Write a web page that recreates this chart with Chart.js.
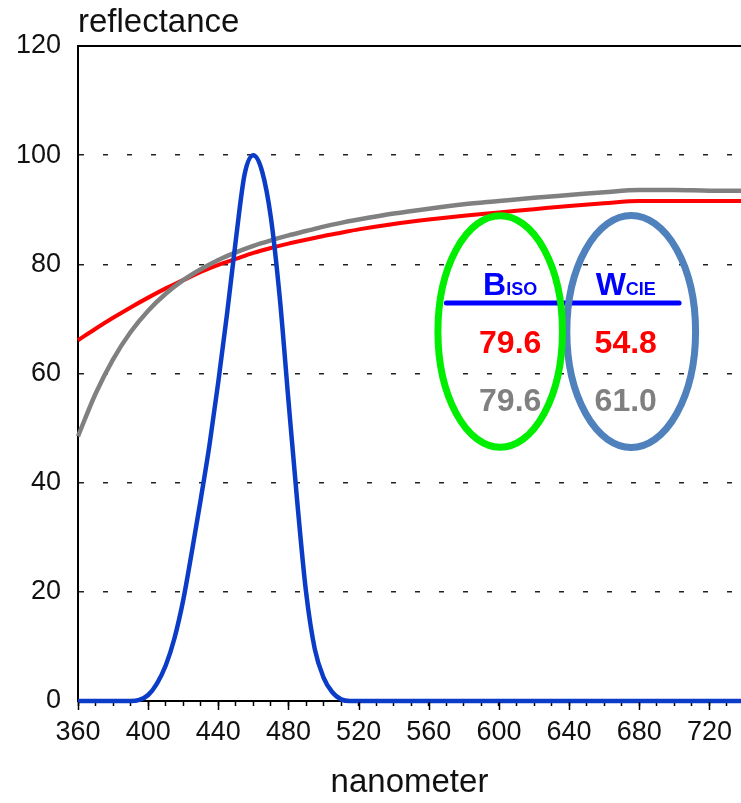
<!DOCTYPE html>
<html>
<head>
<meta charset="utf-8">
<script src="https://cdn.jsdelivr.net/npm/chart.js@4/dist/chart.umd.min.js"></script>
<style>
  html, body { margin: 0; padding: 0; background: #fff; }
  #chart { display: block; }
</style>
</head>
<body>
<canvas id="chart" width="741" height="803"></canvas>
<script>
// wavelengths (nm) for the two paper curves
const curveNm = [360, 370, 380, 390, 400, 410, 420, 430, 440, 450, 460, 470, 480, 490, 500, 510, 520,
  540, 560, 580, 600, 620, 640, 660, 680, 700, 720, 740];
const redReflectance = [66.1, 68.2, 70.2, 72.1, 73.9, 75.6, 77.1, 78.6, 79.9, 81.0, 82.1, 83.0, 83.8, 84.5, 85.2, 85.8, 86.4,
  87.4, 88.2, 88.9, 89.5, 90.1, 90.7, 91.2, 91.6, 91.6, 91.6, 91.6];
const grayReflectance = [48.5, 56.3, 62.6, 67.6, 71.5, 74.6, 77.1, 79.1, 80.8, 82.2, 83.4, 84.4, 85.3, 86.1, 86.9, 87.6, 88.2,
  89.3, 90.2, 91.0, 91.6, 92.2, 92.7, 93.2, 93.6, 93.6, 93.5, 93.5];

// blue filter (ISO brightness band)
const blueNm = [360, 380, 390, 395, 400, 405, 410, 415, 420, 425, 430, 435, 440, 445, 450, 455, 460,
  465, 470, 475, 480, 485, 490, 495, 500, 505, 510, 515, 520, 740];
const blueReflectance = [0, 0, 0, 0.2, 1.1, 3.2, 6.5, 11.5, 18.5, 27.5, 37, 47, 58.5, 71, 84.5, 96.5, 100,
  97, 88.5, 74, 55, 36.5, 20, 9.5, 4.3, 1.6, 0.3, 0, 0, 0];

// values printed in the ellipses
const bIsoValues = ["79.6", "79.6"];
const wCieValues = ["54.8", "61.0"];
const rowColors = ["#ff0000", "#808080"];

const toPoints = (xs, ys) => xs.map((x, i) => ({ x: x, y: ys[i] }));
const FONT = "'Liberation Sans', Arial, sans-serif";

const overlay = {
  id: "overlay",
  afterDraw(chart) {
    const { ctx, chartArea, scales } = chart;
    const x = scales.x, y = scales.y;
    ctx.save();

    // top frame line
    ctx.strokeStyle = "#000";
    ctx.lineWidth = 2;
    ctx.beginPath();
    ctx.moveTo(chartArea.left - 1, chartArea.top);
    ctx.lineTo(chartArea.right, chartArea.top);
    ctx.stroke();

    // longer major ticks every 40 nm
    ctx.lineWidth = 1.5;
    for (let v = 360; v <= 720; v += 40) {
      const px = Math.round(x.getPixelForValue(v)) + 0.5;
      ctx.beginPath();
      ctx.moveTo(px, chartArea.bottom + 1);
      ctx.lineTo(px, chartArea.bottom + 9);
      ctx.stroke();
    }

    // y axis title
    ctx.fillStyle = "#111";
    ctx.font = "33px " + FONT;
    ctx.textAlign = "left";
    ctx.textBaseline = "alphabetic";
    ctx.fillText("reflectance", chartArea.left, 32);

    // header rule
    ctx.strokeStyle = "#0000ff";
    ctx.lineWidth = 5;
    ctx.lineCap = "round";
    ctx.beginPath();
    ctx.moveTo(x.getPixelForValue(570), y.getPixelForValue(72.9));
    ctx.lineTo(x.getPixelForValue(702.7), y.getPixelForValue(72.9));
    ctx.stroke();

    // ellipses
    const ellipse = (cx, cy, rx, ry, color) => {
      const px = x.getPixelForValue(cx), py = y.getPixelForValue(cy);
      const prx = x.getPixelForValue(cx + rx) - px;
      const pry = py - y.getPixelForValue(cy + ry);
      ctx.strokeStyle = color;
      ctx.lineWidth = 7;
      ctx.beginPath();
      ctx.ellipse(px, py, prx, pry, 0, 0, Math.PI * 2);
      ctx.stroke();
    };
    ellipse(675.4, 67.7, 36.7, 21.25, "#4f81bd");
    ellipse(600.7, 67.7, 35.5, 21.2, "#00ee00");

    // headers: B ISO and W CIE
    const header = (big, small, cxNm) => {
      ctx.font = "bold 32px " + FONT;
      const wb = ctx.measureText(big).width;
      ctx.font = "bold 18px " + FONT;
      const ws = ctx.measureText(small).width;
      const left = x.getPixelForValue(cxNm) - (wb + ws) / 2;
      const base = y.getPixelForValue(74.4);
      ctx.fillStyle = "#0000ff";
      ctx.textAlign = "left";
      ctx.font = "bold 32px " + FONT;
      ctx.fillText(big, left, base);
      ctx.font = "bold 18px " + FONT;
      ctx.fillText(small, left + wb, base);
    };
    header("B", "ISO", 606.4);
    header("W", "CIE", 672.3);

    // values
    ctx.font = "bold 32px " + FONT;
    ctx.textAlign = "center";
    const rowBase = [63.7, 53.2];
    rowBase.forEach((b, i) => {
      ctx.fillStyle = rowColors[i];
      ctx.fillText(bIsoValues[i], x.getPixelForValue(606.4), y.getPixelForValue(b));
      ctx.fillText(wCieValues[i], x.getPixelForValue(672.3), y.getPixelForValue(b));
    });

    ctx.restore();
  }
};

new Chart(document.getElementById("chart").getContext("2d"), {
  type: "line",
  data: {
    datasets: [
      {
        label: "filter",
        data: toPoints(blueNm, blueReflectance),
        borderColor: "#0a3cc8",
        borderWidth: 4.5
      },
      {
        label: "sample 2",
        data: toPoints(curveNm, grayReflectance),
        borderColor: "#808080",
        borderWidth: 4.5
      },
      {
        label: "sample 1",
        data: toPoints(curveNm, redReflectance),
        borderColor: "#ff0000",
        borderWidth: 4
      }
    ]
  },
  options: {
    responsive: false,
    animation: false,
    devicePixelRatio: 1,
    layout: { padding: { top: 46, right: 0, bottom: 0, left: 0 } },
    elements: {
      point: { radius: 0 },
      line: { fill: false, cubicInterpolationMode: "monotone" }
    },
    datasets: { line: { clip: false } },
    plugins: {
      legend: { display: false },
      tooltip: { enabled: false }
    },
    scales: {
      x: {
        type: "linear",
        min: 360,
        max: 738,
        z: 1,
        border: { display: true, color: "#000", width: 2 },
        grid: {
          drawOnChartArea: false,
          drawTicks: true,
          tickLength: 5,
          tickColor: "#000",
          tickWidth: 1.5
        },
        ticks: {
          stepSize: 10,
          includeBounds: false,
          autoSkip: false,
          maxRotation: 0,
          padding: 10,
          color: "#111",
          font: { family: FONT, size: 27 },
          callback: (v) => ((v - 360) % 40 === 0 ? String(v) : "")
        },
        title: {
          display: true,
          text: "nanometer",
          color: "#111",
          padding: { top: 5, bottom: 0 },
          font: { family: FONT, size: 33 }
        }
      },
      y: {
        min: 0,
        max: 120,
        afterFit: (scale) => { scale.width = 78; },
        border: { display: true, color: "#000", width: 2, dash: [5, 19] },
        grid: {
          drawTicks: false,
          lineWidth: 1.5,
          color: (c) => (c.tick && c.tick.value > 0 && c.tick.value < 120 ? "#222" : "rgba(0,0,0,0)")
        },
        ticks: {
          stepSize: 20,
          padding: 17,
          color: "#111",
          font: { family: FONT, size: 27 }
        }
      }
    }
  },
  plugins: [overlay]
});
</script>
</body>
</html>
